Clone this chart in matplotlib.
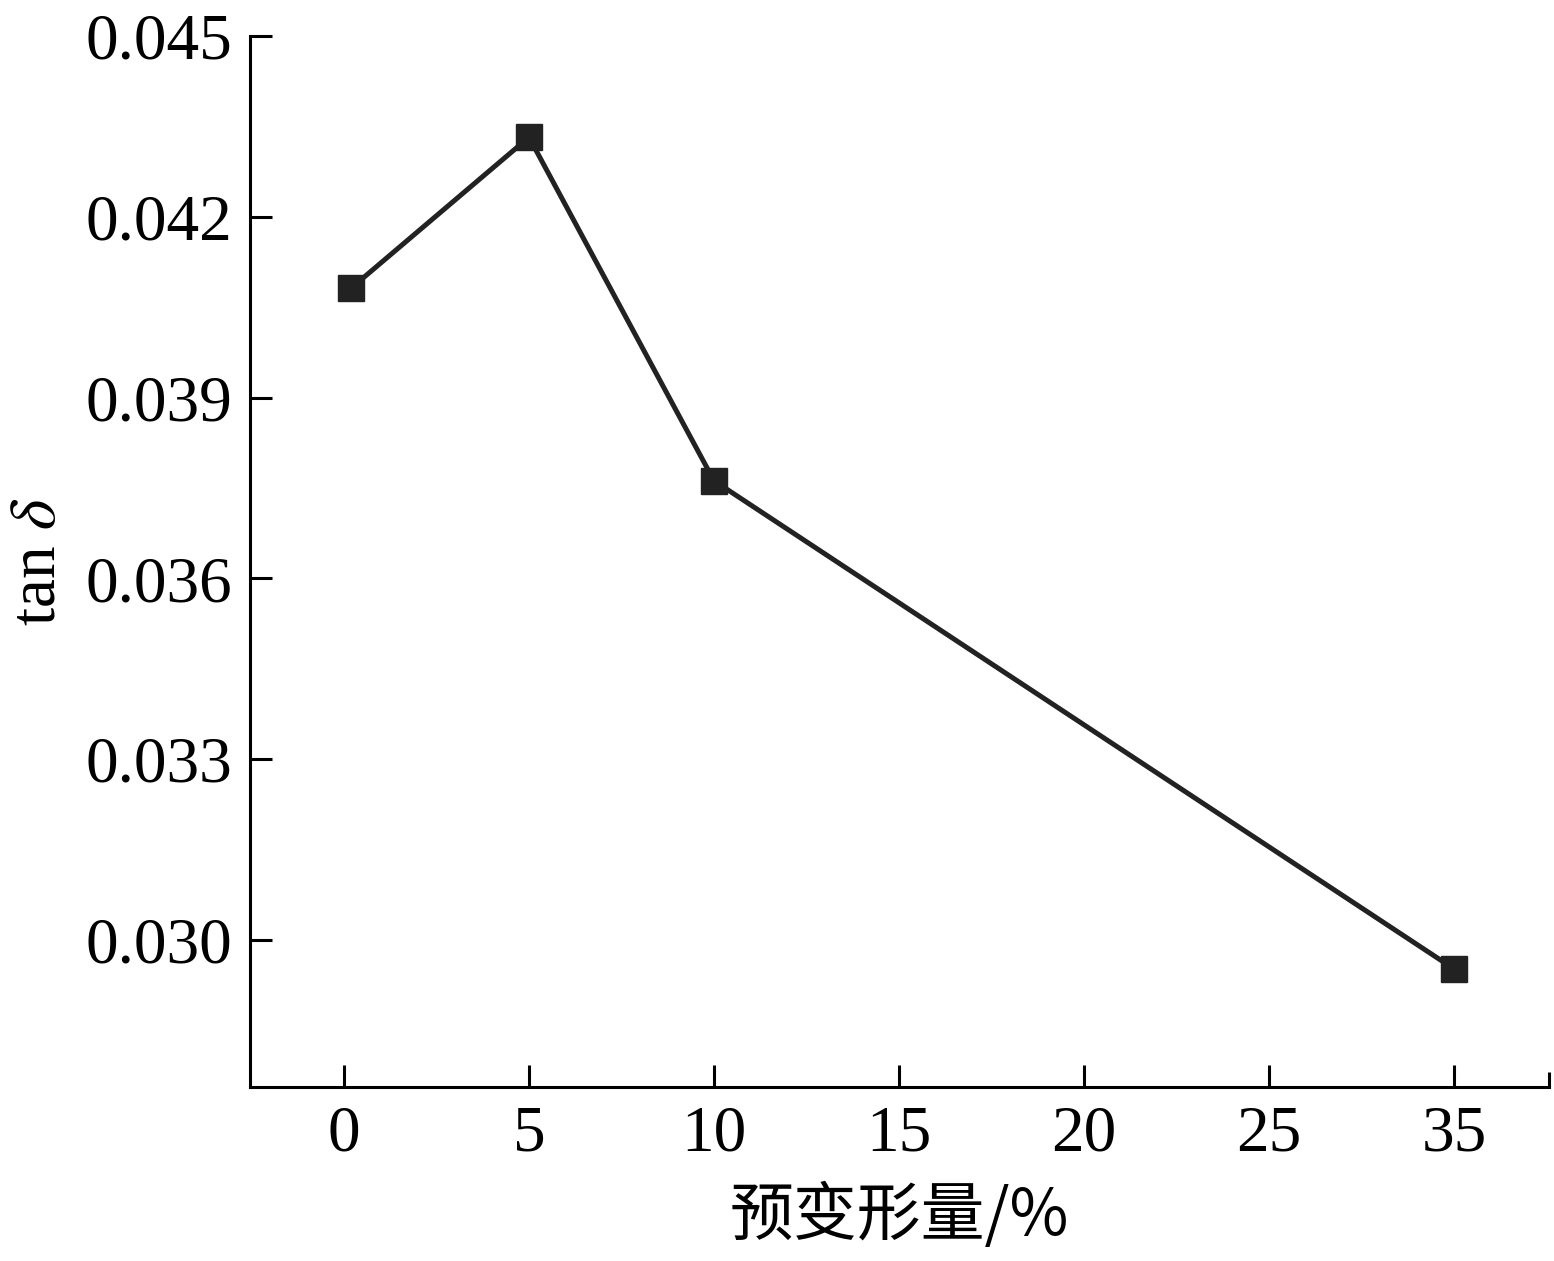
import matplotlib
matplotlib.use("Agg")
import matplotlib.pyplot as plt
import numpy as np

# Data (x positions on the displayed axis; last tick is labelled 35)
x_pos = [0.2, 5, 10, 30]
tan_delta = [0.04082, 0.04332, 0.03762, 0.02952]
xtick_pos = [0, 5, 10, 15, 20, 25, 30]
xtick_labels = ["0", "5", "10", "15", "20", "25", "35"]
ytick_vals = [0.030, 0.033, 0.036, 0.039, 0.042, 0.045]
ytick_labels = ["0.030", "0.033", "0.036", "0.039", "0.042", "0.045"]

plt.rcParams['font.family'] = ['Liberation Serif', 'Noto Sans CJK SC']
plt.rcParams['mathtext.fontset'] = 'stix'

fig = plt.figure(figsize=(15.54, 12.61), dpi=100)
ax = fig.add_axes([0.1609, 0.138, 0.9968 - 0.1609, 0.97145 - 0.138])

ax.plot(x_pos, tan_delta, color='#222222', lw=3.6, marker='s', markersize=18.5,
        markerfacecolor='#222222', markeredgecolor='#222222', solid_joinstyle='miter')

ax.set_xlim(-2.54, 32.57)
ax.set_ylim(0.02756, 0.045)
ax.set_xticks(xtick_pos)
ax.set_xticklabels(xtick_labels)
ax.set_xticks([32.57], minor=True)
ax.set_yticks(ytick_vals)
ax.set_yticklabels(ytick_labels)

for s in ['top', 'right']:
    ax.spines[s].set_visible(False)
for s in ['left', 'bottom']:
    ax.spines[s].set_linewidth(2.2)

ax.tick_params(axis='both', which='major', direction='in', length=16, width=2.2,
               labelsize=47)
ax.tick_params(axis='x', which='major', pad=13)
ax.tick_params(axis='y', which='major', pad=13)
ax.tick_params(axis='x', which='minor', direction='in', length=11, width=2.2)

ax.set_xlabel('预变形量/%', fontsize=46, family=['Noto Sans CJK SC', 'Liberation Serif'], labelpad=14)
ax.set_ylabel(r'tan $\delta$', fontsize=47, labelpad=12)

fig.savefig('out.png', dpi=100)
